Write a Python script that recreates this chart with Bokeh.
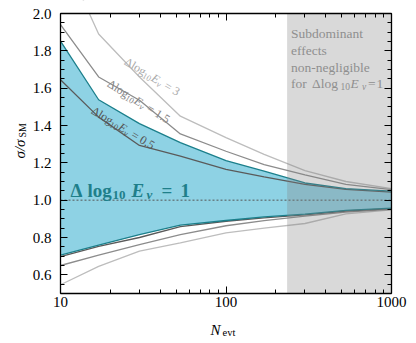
import math
from bokeh.plotting import figure
from bokeh.models import (Label, FixedTicker, LinearAxis, LogAxis, Range1d,
                          PrintfTickFormatter, CustomJSTickFormatter, BoxAnnotation)
from bokeh.embed import file_html
from bokeh.resources import INLINE

# ---------------- data ----------------
n_evt = [10, 17, 30, 53, 100, 170, 300, 530, 1000]
up_d3 = [2.34, 1.89, 1.66, 1.45, 1.335, 1.245, 1.158, 1.10, 1.062]
lo_d3 = [0.547, 0.645, 0.727, 0.771, 0.825, 0.85, 0.875, 0.927, 0.948]
up_d15 = [1.94, 1.66, 1.535, 1.355, 1.262, 1.19, 1.135, 1.085, 1.056]
lo_d15 = [0.65, 0.705, 0.762, 0.815, 0.863, 0.89, 0.915, 0.936, 0.951]
up_d1 = [1.852, 1.538, 1.41, 1.308, 1.212, 1.155, 1.092, 1.062, 1.048]
lo_d1 = [0.706, 0.759, 0.815, 0.866, 0.891, 0.91, 0.925, 0.945, 0.957]
up_d05 = [1.645, 1.445, 1.293, 1.236, 1.165, 1.125, 1.085, 1.058, 1.043]
lo_d05 = [0.698, 0.752, 0.80, 0.858, 0.887, 0.905, 0.921, 0.942, 0.955]
subdominant_from = 234
reference_ratio = [1.0, 1.0]
x_lim = [10, 1000]
y_lim = [0.5, 2.0]
y_ticks = [0.6, 0.8, 1.0, 1.2, 1.4, 1.6, 1.8, 2.0]
x_ticks = [10, 100, 1000]

SERIF = "Liberation Serif"
TEAL_FILL = "#8ed2e4"
TEAL_LINE = "#1b7f8b"
C3, C15, C05 = "#bdbdbd", "#8c8c8c", "#5a5a5a"

W, H = 410, 340
FL, FR, FT, FB = 60, 391, 13, 293  # plot box edges on the canvas (pixels)


def dx(px):
    return 10 ** (math.log10(x_lim[0]) + math.log10(x_lim[1] / x_lim[0]) * (px - FL) / (FR - FL))


def dy(py):
    return y_lim[1] - (y_lim[1] - y_lim[0]) * (py - FT) / (FB - FT)


# the frame spans the whole canvas so that axis titles can be drawn as labels;
# the axes themselves sit at fixed data locations around the plot box
p = figure(width=W, height=H, x_axis_type="log",
           x_axis_location=None, y_axis_location=None,
           x_range=Range1d(dx(0), dx(W)), y_range=Range1d(dy(H), dy(0)),
           output_backend="svg", toolbar_location=None,
           min_border_left=0, min_border_right=0, min_border_top=0, min_border_bottom=0)
p.grid.visible = False
p.outline_line_color = None
p.background_fill_color = "white"
p.border_fill_color = "white"

# band and curves
p.varea(x=n_evt, y1=lo_d1, y2=up_d1, fill_color=TEAL_FILL, fill_alpha=1.0)
for ys, c in [(up_d3, C3), (lo_d3, C3), (up_d15, C15), (lo_d15, C15),
              (up_d05, C05), (lo_d05, C05)]:
    p.line(n_evt, ys, line_color=c, line_width=1.3)
p.line(n_evt, up_d1, line_color=TEAL_LINE, line_width=1.3)
p.line(n_evt, lo_d1, line_color=TEAL_LINE, line_width=1.3)

# hide what lies above the plot box (white mask below the axes)
p.add_layout(BoxAnnotation(bottom=y_lim[1], fill_color="white", fill_alpha=1.0,
                           line_color=None, level="glyph"))
p.add_layout(BoxAnnotation(left=subdominant_from, right=x_lim[1], bottom=y_lim[0],
                           top=y_lim[1], fill_color="#808080", fill_alpha=0.3,
                           line_color=None, level="glyph"))
p.line(x_lim, reference_ratio, line_color="#555555", line_dash="2 2", line_width=1)

# ---------------- axes ----------------
minor_y = [round(0.5 + 0.05 * i, 2) for i in range(31)]
minor_x = [k * 10 ** e for e in (1, 2) for k in range(2, 10)]
yt = FixedTicker(ticks=y_ticks, minor_ticks=minor_y)
xt = FixedTicker(ticks=x_ticks, minor_ticks=minor_x)


def style(ax, labels=True):
    ax.major_tick_in = 7
    ax.major_tick_out = 0
    ax.minor_tick_in = 4
    ax.minor_tick_out = 0
    ax.axis_line_width = 1.3
    ax.axis_line_color = "black"
    ax.major_tick_line_width = 1
    ax.minor_tick_line_width = 1
    ax.major_label_text_font = SERIF
    ax.major_label_text_font_size = "15px"
    ax.major_label_text_font_style = "normal"
    ax.major_label_text_color = "black"
    if not labels:
        ax.major_label_standoff = 0
        ax.formatter = CustomJSTickFormatter(code="return ''")


la = LinearAxis(ticker=yt, formatter=PrintfTickFormatter(format="%.1f"),
                fixed_location=x_lim[0], bounds=tuple(y_lim))
ba = LogAxis(ticker=xt, formatter=PrintfTickFormatter(format="%d"),
             fixed_location=y_lim[0], bounds=tuple(x_lim))
ra = LinearAxis(ticker=yt, fixed_location=x_lim[1], bounds=tuple(y_lim))
ta = LogAxis(ticker=xt, fixed_location=y_lim[1], bounds=tuple(x_lim))
style(la)
style(ba)
style(ra, False)
style(ta, False)
la.major_label_standoff = 9
ba.major_label_standoff = 3
p.add_layout(la, "left")
p.add_layout(ba, "below")
p.add_layout(ra, "right")
p.add_layout(ta, "above")

# ---------------- text helpers ----------------


def put(px, py, text, size, color, fstyle="normal", angle=0.0, ox=0.0, oy=0.0):
    p.add_layout(Label(x=dx(px), y=dy(py), text=text, x_offset=ox, y_offset=oy,
                       angle=angle, text_font=SERIF, text_font_size=f"{size}px",
                       text_font_style=fstyle, text_color=color,
                       text_align="left", text_baseline="alphabetic"))


EM = {'Δ': 0.61, 'l': 0.28, 'o': 0.5, 'g': 0.5, '0': 0.5, '1': 0.5, '3': 0.5,
      '5': 0.5, '.': 0.25, 'E': 0.61, 'ν': 0.47, ' ': 0.25, '=': 0.56}


def wid(t, s):
    return sum(EM.get(ch, 0.5) for ch in t) * s


def rotated(px, py, deg, pieces, color):
    th = math.radians(deg)
    ux, uy = math.cos(th), math.sin(th)
    nx, ny = -math.sin(th), math.cos(th)
    along = 0.0
    for text, size, fst, shift, gap in pieces:
        along += gap
        put(px, py, text, size, color, fst, th,
            along * ux - shift * nx, along * uy - shift * ny)
        along += wid(text, size)


def dlabel(val):
    return [("Δlog", 12, "normal", 0, 0), ("10", 8.5, "normal", 3, 0),
            ("E", 12, "italic", 0, 0.5), ("ν", 8.5, "italic", 3, 0),
            ("= " + val, 12, "normal", 0, 3.5)]


rotated(125, 60, -31, dlabel("3"), "#aaaaaa")
rotated(108, 82, -32, dlabel("1.5"), "#858585")
rotated(92, 109, -31, dlabel("0.5"), "#555555")

# big label
BIG = "#1f7f8a"
put(70, 190, "Δ", 19, BIG, "bold")
put(87, 190, "log", 19, BIG, "bold")
put(112, 194, "10", 13, BIG, "bold")
put(131, 190, "E", 19, BIG, "bold italic")
put(146, 194, "ν", 13, BIG, "bold italic")
put(161, 190, "=", 19, BIG, "bold")
put(180, 190, "1", 19, BIG, "bold")

# subdominant note
GR = "#8f8f8f"
put(290.5, 33, "Subdominant", 13.5, GR)
put(290.5, 50, "effects", 13.5, GR)
put(290.5, 66.5, "non-negligible", 13.5, GR)
put(290.5, 83, "for", 13.5, GR)
put(311.5, 83, "Δlog", 13.5, GR)
put(340, 86, "10", 9.5, GR)
put(350, 83, "E", 13.5, GR, "italic")
put(361.5, 86, "ν", 9.5, GR, "italic")
put(367.5, 83, "=", 13.5, GR)
put(376, 83, "1", 13.5, GR)

# axis titles
put(19, 158, "σ/σ", 15, "black", "italic", math.pi / 2)
put(22, 137, "SM", 10, "black", "normal", math.pi / 2)
put(210, 329, "N", 15, "black", "italic")
put(222, 332, "evt", 10.5, "black")

open("out.html", "w").write(file_html(p, INLINE))
